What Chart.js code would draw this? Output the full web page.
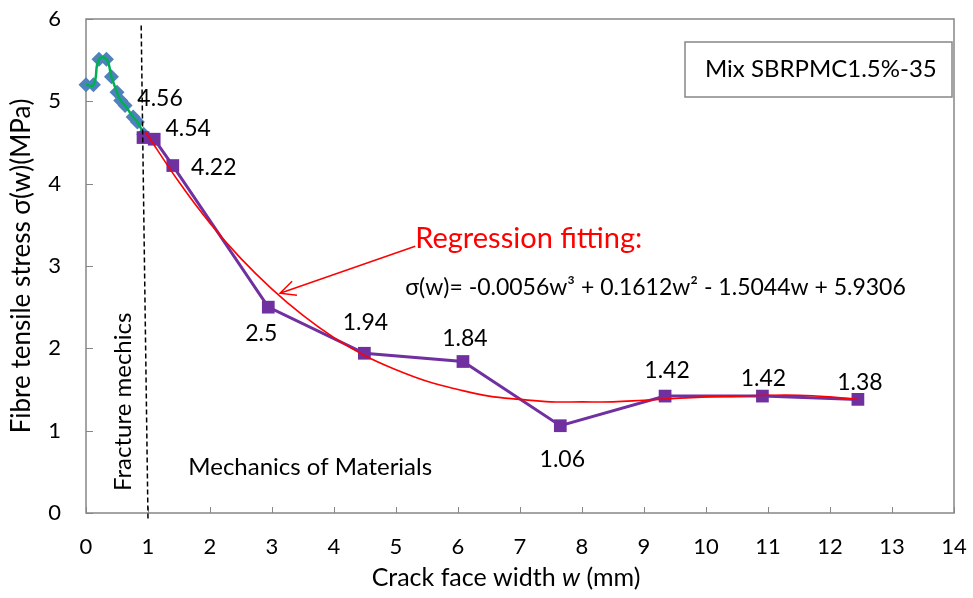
<!DOCTYPE html>
<html>
<head>
<meta charset="utf-8">
<script src="https://cdn.jsdelivr.net/npm/chart.js@4/dist/chart.umd.min.js"></script>
<style>
  html, body { margin: 0; padding: 0; background: #fff; }
  #wrap { width: 973px; height: 598px; position: relative; }
</style>
</head>
<body>
<div id="wrap"><canvas id="chart"></canvas></div>
<script>
// early stage (blue diamonds, green smooth line)
const earlyW = [0, 0.12, 0.21, 0.33, 0.41, 0.50, 0.56, 0.63, 0.76, 0.83, 0.93];
const earlyS = [5.20, 5.20, 5.51, 5.51, 5.30, 5.11, 5.01, 4.95, 4.81, 4.75, 4.60];

// measured points (purple squares)
const crackW = [0.92, 1.10, 1.40, 2.94, 4.49, 6.08, 7.65, 9.34, 10.91, 12.45];
const stress = [4.56, 4.54, 4.22, 2.5, 1.94, 1.84, 1.06, 1.42, 1.42, 1.38];
const stressLabels = ['4.56', '4.54', '4.22', '2.5', '1.94', '1.84', '1.06', '1.42', '1.42', '1.38'];
// where each label sits relative to its point (px)
const labelOffsets = [[17, -39], [34, -11], [41, 2], [-7, 26], [1, -31], [2, -23], [2, 34], [2, -26], [1, -18], [2, -17]];

// regression curve
const regW = [0.95, 1.5, 2, 2.5, 3, 3.5, 4, 4.5, 5, 5.5, 6, 6.5, 7, 7.5, 8, 8.5, 9, 9.5, 10, 10.5, 11, 11.5, 12, 12.45];
const regS = [4.64, 4.02, 3.52, 3.09, 2.72, 2.40, 2.13, 1.91, 1.74, 1.60, 1.50, 1.42, 1.38, 1.35, 1.35, 1.35, 1.37, 1.39, 1.41, 1.42, 1.43, 1.43, 1.41, 1.38];

// dashed boundary between fracture mechanics and mechanics of materials
const boundaryW = [0.89, 1.0];
const boundaryS = [5.92, -0.08];

const xTicks = [0, 1, 2, 3, 4, 5, 6, 7, 8, 9, 10, 11, 12, 13, 14];
const yTicks = [0, 1, 2, 3, 4, 5, 6];

const FONT = 'Lato, "Open Sans", sans-serif';
const AXIS_GREY = '#868686';

function pts(xs, ys) {
  return xs.map((x, i) => ({ x: x, y: ys[i] }));
}

// ticks inside the frame + frame + texts
const decorations = {
  id: 'decorations',
  beforeDatasetsDraw(chart) {
    const { ctx, chartArea: a, scales: { x, y } } = chart;
    ctx.save();
    ctx.strokeStyle = AXIS_GREY;
    ctx.lineWidth = 1.5;
    ctx.strokeRect(a.left, a.top, a.right - a.left, a.bottom - a.top);
    ctx.lineWidth = 1;
    ctx.beginPath();
    xTicks.forEach(t => {
      const px = Math.round(x.getPixelForValue(t)) + 0.5;
      ctx.moveTo(px, a.bottom);
      ctx.lineTo(px, a.bottom - 6);
    });
    yTicks.forEach(t => {
      const py = Math.round(y.getPixelForValue(t)) + 0.5;
      ctx.moveTo(a.left, py);
      ctx.lineTo(a.left + 7, py);
    });
    ctx.stroke();
    ctx.restore();
  },
  afterDatasetsDraw(chart) {
    const { ctx, chartArea: a, scales: { x, y } } = chart;
    ctx.save();

    // value labels
    const meta = chart.getDatasetMeta(2);
    ctx.fillStyle = '#000';
    ctx.font = '23px ' + FONT;
    ctx.textAlign = 'center';
    ctx.textBaseline = 'middle';
    meta.data.forEach((p, i) => {
      ctx.fillText(stressLabels[i], p.x + labelOffsets[i][0], p.y + labelOffsets[i][1]);
    });

    // regression arrow
    const x0 = x.getPixelForValue(5.31), y0 = y.getPixelForValue(3.24);
    const x1 = x.getPixelForValue(3.13), y1 = y.getPixelForValue(2.67);
    const ang = Math.atan2(y1 - y0, x1 - x0);
    ctx.strokeStyle = '#ff0000';
    ctx.lineWidth = 1.5;
    ctx.beginPath();
    ctx.moveTo(x0, y0);
    ctx.lineTo(x1, y1);
    ctx.moveTo(x1 - 17 * Math.cos(ang - 0.45), y1 - 17 * Math.sin(ang - 0.45));
    ctx.lineTo(x1, y1);
    ctx.lineTo(x1 - 17 * Math.cos(ang + 0.45), y1 - 17 * Math.sin(ang + 0.45));
    ctx.stroke();

    ctx.textAlign = 'left';
    ctx.fillStyle = '#ff0000';
    ctx.font = '29px ' + FONT;
    ctx.fillText('Regression fitting:', x.getPixelForValue(5.31), y.getPixelForValue(3.33));

    ctx.fillStyle = '#000';
    ctx.font = '23px ' + FONT;
    ctx.fillText('σ(w)= -0.0056w³ + 0.1612w² - 1.5044w + 5.9306', x.getPixelForValue(5.15), y.getPixelForValue(2.74));

    ctx.font = '24px ' + FONT;
    ctx.fillText('Mechanics of Materials', x.getPixelForValue(1.65), y.getPixelForValue(0.56));

    ctx.save();
    ctx.translate(x.getPixelForValue(0.6), y.getPixelForValue(1.35));
    ctx.rotate(-Math.PI / 2);
    ctx.textAlign = 'center';
    ctx.fillText('Fracture mechics', 0, 0);
    ctx.restore();

    // legend-like box
    const bx = a.right - 269, by = a.top + 23, bw = 267, bh = 55;
    ctx.fillStyle = '#fff';
    ctx.fillRect(bx, by, bw, bh);
    ctx.strokeStyle = AXIS_GREY;
    ctx.lineWidth = 1.5;
    ctx.strokeRect(bx, by, bw, bh);
    ctx.fillStyle = '#000';
    ctx.font = '24px ' + FONT;
    ctx.textAlign = 'left';
    ctx.fillText('Mix SBRPMC1.5%-35', bx + 20, by + bh / 2);

    // x axis title with italic w
    const p1 = 'Crack face width ', p3 = ' (mm)';
    ctx.font = '25px ' + FONT;
    const w1 = ctx.measureText(p1).width, w3 = ctx.measureText(p3).width;
    ctx.font = 'italic 25px ' + FONT;
    const w2 = ctx.measureText('w').width;
    const tx = 506 - (w1 + w2 + w3) / 2;
    const ty = 578;
    ctx.font = '25px ' + FONT;
    ctx.fillText(p1, tx, ty);
    ctx.font = 'italic 25px ' + FONT;
    ctx.fillText('w', tx + w1, ty);
    ctx.font = '25px ' + FONT;
    ctx.fillText(p3, tx + w1 + w2, ty);

    ctx.restore();
  }
};

new Chart(document.getElementById('chart'), {
  type: 'scatter',
  data: {
    datasets: [
      {
        label: 'boundary',
        data: pts(boundaryW, boundaryS),
        showLine: true,
        borderColor: '#000',
        borderWidth: 1.5,
        borderDash: [5, 3],
        pointRadius: 0,
        clip: false,
        order: 0
      },
      {
        label: 'regression',
        data: pts(regW, regS),
        showLine: true,
        borderColor: '#ff0000',
        borderWidth: 1.6,
        tension: 0.4,
        pointRadius: 0,
        order: 1
      },
      {
        label: 'measured',
        data: pts(crackW, stress),
        showLine: true,
        borderColor: '#7030a0',
        backgroundColor: '#7030a0',
        borderWidth: 3,
        pointStyle: 'rect',
        pointRadius: 9,
        pointBorderWidth: 0,
        order: 2
      },
      {
        label: 'early line',
        data: pts(earlyW, earlyS),
        showLine: true,
        borderColor: '#00b050',
        borderWidth: 2.5,
        tension: 0.5,
        pointRadius: 0,
        clip: false,
        order: 3
      },
      {
        label: 'early',
        data: pts(earlyW, earlyS),
        showLine: false,
        backgroundColor: '#4f81bd',
        borderColor: '#4f81bd',
        pointStyle: 'rectRot',
        pointRadius: 7.5,
        pointBorderWidth: 0,
        clip: false,
        order: 4
      }
    ]
  },
  options: {
    responsive: true,
    maintainAspectRatio: false,
    animation: false,
    devicePixelRatio: 1,
    layout: { padding: { top: 19, right: 19, left: 0, bottom: 0 } },
    plugins: {
      legend: { display: false },
      tooltip: { enabled: false }
    },
    scales: {
      x: {
        type: 'linear',
        min: 0,
        max: 14,
        afterFit: s => { s.height = 85; s.paddingLeft = 0; s.paddingRight = 0; },
        afterBuildTicks: s => { s.ticks = xTicks.map(v => ({ value: v })); },
        grid: { display: false, drawTicks: false },
        border: { display: false },
        ticks: { color: '#000', font: { family: FONT, size: 22 }, padding: 21, maxRotation: 0 }
      },
      y: {
        type: 'linear',
        min: 0,
        max: 6,
        afterFit: s => { s.width = 86; s.paddingTop = 0; s.paddingBottom = 0; },
        afterBuildTicks: s => { s.ticks = yTicks.map(v => ({ value: v })); },
        grid: { display: false, drawTicks: false },
        border: { display: false },
        ticks: { color: '#000', font: { family: FONT, size: 22 }, padding: 25 },
        title: {
          display: true,
          text: 'Fibre tensile stress σ(w)(MPa)',
          color: '#000',
          font: { family: FONT, size: 26 },
          padding: { top: 6, bottom: 0 }
        }
      }
    }
  },
  plugins: [decorations]
});
</script>
</body>
</html>
